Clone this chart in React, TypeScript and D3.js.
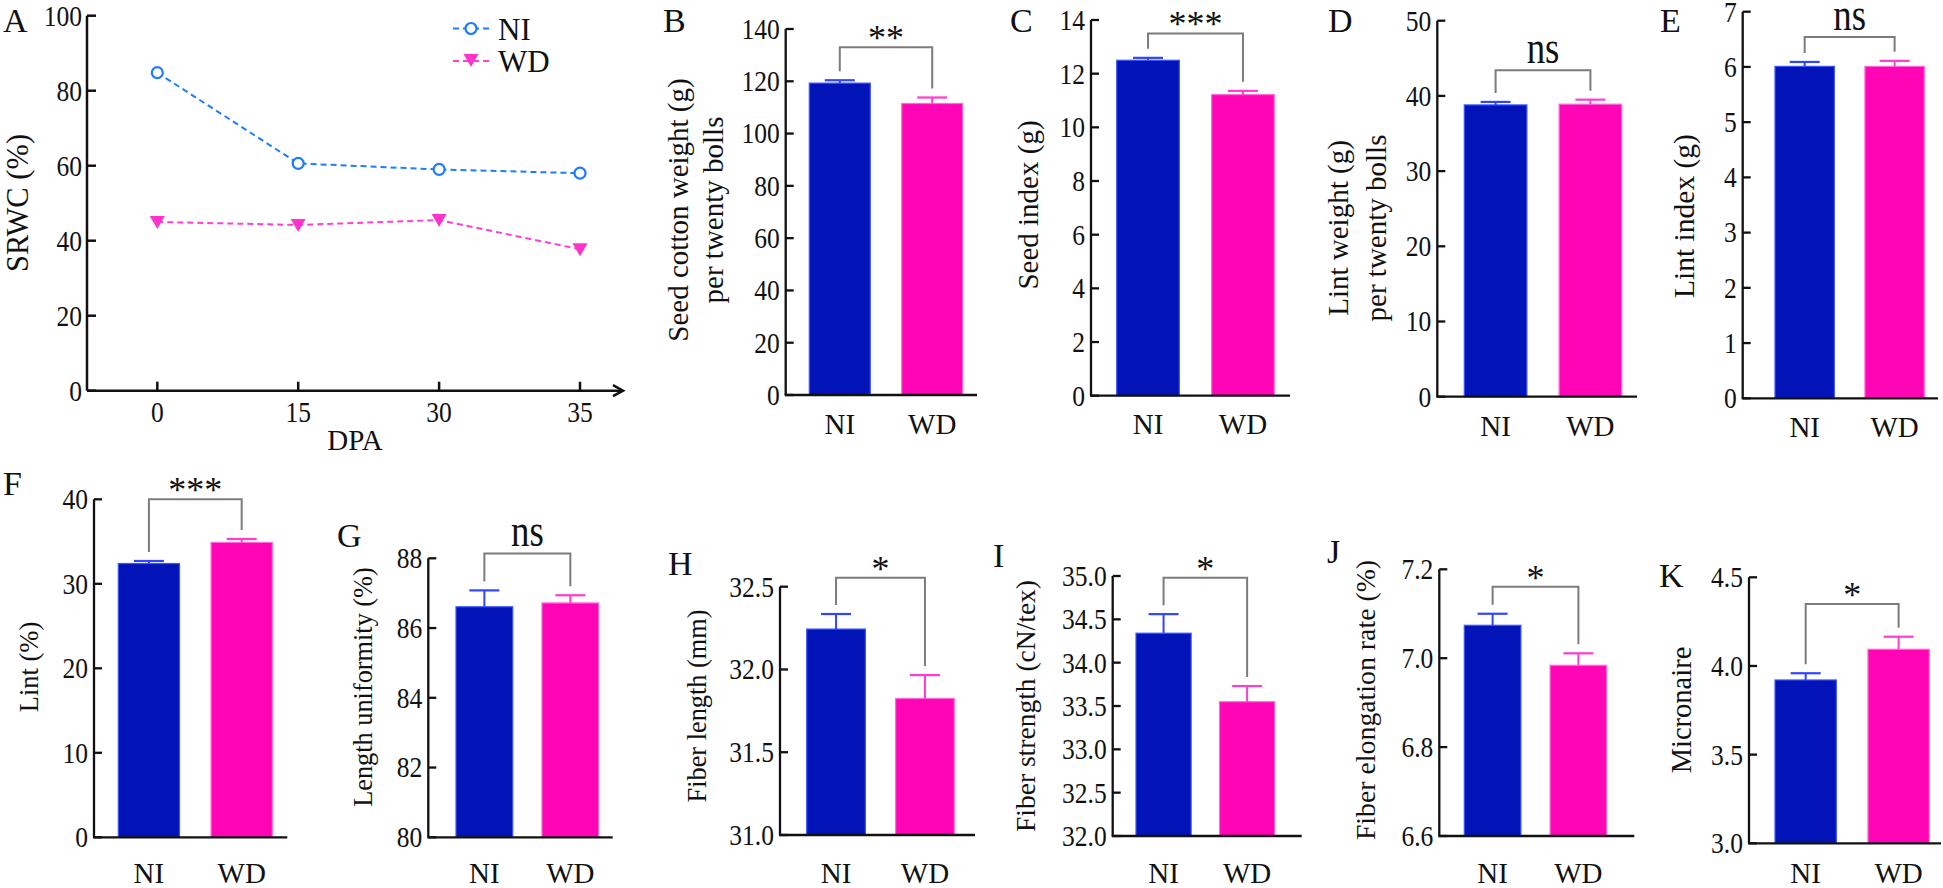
import React from "react";
import * as d3 from "d3";

// ---------- Panel A data ----------
const dpaCats = ["0", "15", "30", "35"];
const srwcNI = [84.8, 60.6, 59.0, 58.0];
const srwcWD = [45.0, 44.2, 45.5, 37.7];
const srwcTicks = [0, 20, 40, 60, 80, 100];

// ---------- Bar panels data (B..K) ----------
const groups = ["NI", "WD"];
const panelLetters = ["B", "C", "D", "E", "F", "G", "H", "I", "J", "K"];
const titleLine1 = [
  "Seed cotton weight (g)", "Seed index (g)", "Lint weight (g)", "Lint index (g)", "Lint (%)",
  "Length uniformity (%)", "Fiber length (mm)", "Fiber strength (cN/tex)", "Fiber elongation rate (%)", "Micronaire",
];
const titleLine2 = ["per twenty bolls", "", "per twenty bolls", "", "", "", "", "", "", ""];
const meanNI = [119.3, 12.5, 38.8, 6.01, 32.4, 86.61, 32.244, 34.34, 7.074, 3.921];
const meanWD = [111.5, 11.22, 38.9, 6.01, 34.9, 86.72, 31.825, 33.55, 6.984, 4.094];
const seNI = [1.1, 0.09, 0.4, 0.08, 0.3, 0.47, 0.091, 0.22, 0.026, 0.038];
const seWD = [2.3, 0.14, 0.6, 0.1, 0.4, 0.22, 0.141, 0.18, 0.027, 0.071];
const yMinVals = [0, 0, 0, 0, 0, 80, 31, 32, 6.6, 3.0];
const yMaxVals = [140, 14, 50, 7, 40, 88, 32.5, 35, 7.2, 4.5];
const yStepVals = [20, 2, 10, 1, 10, 2, 0.5, 0.5, 0.2, 0.5];
const tickDecimals = [0, 0, 0, 0, 0, 0, 1, 1, 1, 1];
const sigLabels = ["**", "***", "ns", "ns", "***", "ns", "*", "*", "*", "*"];
const bracketLevel = [133, 13.5, 43.4, 6.54, 40.0, 88.14, 32.554, 34.98, 7.161, 4.35];

// ---------- Layout (positions only) ----------
const layout = [
  { x0: 785.7, x1: 977, yb: 395, yt: 29, b0: 809.3, b1: 962.7, lx: 663, ly: 32, tx: [679, 714], ty: 210, cy: 434, ts: 29 },
  { x0: 1091, x1: 1290, yb: 395.7, yt: 20, b0: 1116.7, b1: 1274.3, lx: 1010, ly: 32, tx: [1029], ty: 205, cy: 434, ts: 29 },
  { x0: 1437.3, x1: 1637, yb: 396.7, yt: 20.7, b0: 1464.3, b1: 1621.7, lx: 1328, ly: 32, tx: [1339, 1377], ty: 228, cy: 436, ts: 29 },
  { x0: 1742.7, x1: 1938, yb: 398.3, yt: 11.7, b0: 1775, b1: 1924.3, lx: 1660, ly: 32, tx: [1685], ty: 216, cy: 437, ts: 29.5 },
  { x0: 94, x1: 287.3, yb: 837.3, yt: 499.3, b0: 118.3, b1: 272.3, lx: 3, ly: 495, tx: [30], ty: 667, cy: 883, ts: 26.5 },
  { x0: 428.3, x1: 612.7, yb: 837.3, yt: 558.3, b0: 456, b1: 598.7, lx: 337, ly: 547, tx: [364], ty: 687, cy: 883, ts: 26.3 },
  { x0: 780, x1: 975, yb: 835, yt: 586.7, b0: 806.7, b1: 954.3, lx: 668, ly: 575, tx: [698], ty: 706, cy: 883, ts: 26.3 },
  { x0: 1112.7, x1: 1301.7, yb: 836, yt: 576, b0: 1136, b1: 1274.7, lx: 993, ly: 567, tx: [1026], ty: 706, cy: 883, ts: 27.5 },
  { x0: 1439.3, x1: 1634.3, yb: 836, yt: 569.3, b0: 1464.3, b1: 1606.7, lx: 1327, ly: 563, tx: [1366], ty: 700, cy: 883, ts: 27.8 },
  { x0: 1749, x1: 1941, yb: 843.3, yt: 577.3, b0: 1775, b1: 1929.3, lx: 1659, ly: 587, tx: [1682], ty: 710, cy: 883, ts: 28.5 },
];
const layoutA = { x0: 87, x1: 623, yb: 390.7, yt: 15.7, p0: 157.3, p1: 580 };

const FONT = "'Liberation Serif', 'Times New Roman', serif";
const barFill = ["#0213b8", "#ff05b6"];
const barEdge = ["#3a55ff", "#ff6ad8"];
const errColor = ["#2f45ff", "#ff3ccc"];
const axisColor = "#111";
const bracketColor = "#7c7c7c";
const niLine = "#1f7bff";
const wdLine = "#ff3fd0";

function TickLabel({ x, y, text, anchor }: { x: number; y: number; text: string; anchor: string }) {
  return (
    <text
      transform={`translate(${x},${y}) scale(0.88,1)`}
      textAnchor={anchor as any}
      dy="0.34em"
      fontSize={29}
      fontFamily={FONT}
      fill="#111"
    >
      {text}
    </text>
  );
}

function PanelA() {
  const L = layoutA;
  const x = d3.scalePoint<string>().domain(dpaCats).range([L.p0, L.p1]);
  const y = d3.scaleLinear().domain([0, 100]).range([L.yb, L.yt]);
  const line = d3
    .line<number>()
    .x((_, i) => x(dpaCats[i]) as number)
    .y((d) => y(d));
  const tri = "M-7.5,-6 L7.5,-6 L0,7 Z";
  return (
    <g>
      <text x={3} y={32} fontSize={34} fontFamily={FONT} fill="#111">A</text>
      {/* axes */}
      <line x1={L.x0} x2={L.x0} y1={y(100)} y2={L.yb} stroke={axisColor} strokeWidth={2.5} />
      <line x1={L.x0} x2={L.x1} y1={L.yb} y2={L.yb} stroke={axisColor} strokeWidth={2.5} />
      <path d={`M${L.x1 - 10},${L.yb - 5.5} L${L.x1},${L.yb} L${L.x1 - 10},${L.yb + 5.5}`} fill="none" stroke={axisColor} strokeWidth={2.5} />
      {srwcTicks.map((t) => (
        <g key={t}>
          <line x1={L.x0} x2={L.x0 + 9} y1={y(t)} y2={y(t)} stroke={axisColor} strokeWidth={2.5} />
          <TickLabel x={L.x0 - 5} y={y(t)} text={String(t)} anchor="end" />
        </g>
      ))}
      {dpaCats.map((c) => (
        <g key={c}>
          <line x1={x(c)} x2={x(c)} y1={L.yb} y2={L.yb - 9} stroke={axisColor} strokeWidth={2.5} />
          <TickLabel x={x(c) as number} y={L.yb + 21} text={c} anchor="middle" />
        </g>
      ))}
      <text x={(L.x0 + L.x1) / 2} y={450} textAnchor="middle" fontSize={29} fontFamily={FONT} fill="#111">DPA</text>
      <text transform={`translate(18.5,203) rotate(-90)`} textAnchor="middle" dy="0.32em" fontSize={30.5} fontFamily={FONT} fill="#111">SRWC (%)</text>
      {/* lines */}
      <path d={line(srwcNI) as string} fill="none" stroke={niLine} strokeWidth={2} strokeDasharray="6,4" />
      <path d={line(srwcWD) as string} fill="none" stroke={wdLine} strokeWidth={2} strokeDasharray="6,4" />
      {srwcNI.map((v, i) => (
        <circle key={i} cx={x(dpaCats[i])} cy={y(v)} r={5.5} fill="#fff" stroke={niLine} strokeWidth={2.2} />
      ))}
      {srwcWD.map((v, i) => (
        <path key={i} d={tri} transform={`translate(${x(dpaCats[i])},${y(v)})`} fill="#ff33cc" />
      ))}
      {/* legend */}
      <line x1={453} x2={493} y1={28.5} y2={28.5} stroke={niLine} strokeWidth={2} strokeDasharray="6,4" />
      <circle cx={471} cy={28.5} r={5.5} fill="#fff" stroke={niLine} strokeWidth={2.2} />
      <text x={498} y={39.5} fontSize={31} fontFamily={FONT} fill="#111">NI</text>
      <line x1={453} x2={493} y1={61} y2={61} stroke={wdLine} strokeWidth={2} strokeDasharray="6,4" />
      <path d={tri} transform={`translate(471,60)`} fill="#ff33cc" />
      <text x={498} y={72} fontSize={31} fontFamily={FONT} fill="#111">WD</text>
    </g>
  );
}

function BarPanel({ i }: { i: number }) {
  const L = layout[i];
  const y = d3.scaleLinear().domain([yMinVals[i], yMaxVals[i]]).range([L.yb, L.yt]);
  const x = d3.scaleBand<string>().domain(groups).range([L.b0, L.b1]).paddingInner(0.34).paddingOuter(0);
  const ticks = d3.range(yMinVals[i], yMaxVals[i] + yStepVals[i] / 2, yStepVals[i]);
  const means = [meanNI[i], meanWD[i]];
  const ses = [seNI[i], seWD[i]];
  const bw = x.bandwidth();
  const cx = groups.map((g) => (x(g) as number) + bw / 2);
  const by = y(bracketLevel[i]);
  const legBottom = means.map((m, k) => y(m + ses[k]) - 9);
  const sig = sigLabels[i];
  const midX = (cx[0] + cx[1]) / 2;
  return (
    <g>
      <text x={L.lx} y={L.ly} fontSize={34} fontFamily={FONT} fill="#111">{panelLetters[i]}</text>
      {/* bars */}
      {groups.map((g, k) => (
        <rect
          key={g}
          x={x(g)}
          y={y(means[k])}
          width={bw}
          height={y(yMinVals[i]) - y(means[k])}
          fill={barFill[k]}
          stroke={barEdge[k]}
          strokeWidth={1.2}
        />
      ))}
      {/* error bars */}
      {groups.map((g, k) => (
        <g key={g}>
          <line x1={cx[k]} x2={cx[k]} y1={y(means[k])} y2={y(means[k] + ses[k])} stroke={errColor[k]} strokeWidth={2} />
          <line x1={cx[k] - 15} x2={cx[k] + 15} y1={y(means[k] + ses[k])} y2={y(means[k] + ses[k])} stroke={errColor[k]} strokeWidth={2.2} />
        </g>
      ))}
      {/* axes */}
      <line x1={L.x0} x2={L.x0} y1={L.yt} y2={L.yb} stroke={axisColor} strokeWidth={2.3} />
      <line x1={L.x0 - 1} x2={L.x1} y1={L.yb} y2={L.yb} stroke={axisColor} strokeWidth={2.3} />
      {ticks.map((t) => (
        <g key={t}>
          <line x1={L.x0} x2={L.x0 + 8} y1={y(t)} y2={y(t)} stroke={axisColor} strokeWidth={2.3} />
          <TickLabel x={L.x0 - 6} y={y(t)} text={t.toFixed(tickDecimals[i])} anchor="end" />
        </g>
      ))}
      {groups.map((g, k) => (
        <text key={g} x={cx[k]} y={L.cy} textAnchor="middle" fontSize={29} fontFamily={FONT} fill="#111">{g}</text>
      ))}
      {/* y title */}
      {L.tx.map((tx, k) => (
        <text
          key={k}
          transform={`translate(${tx},${L.ty}) rotate(-90)`}
          textAnchor="middle"
          dy="0.32em"
          fontSize={L.ts}
          fontFamily={FONT}
          fill="#111"
        >
          {k === 0 ? titleLine1[i] : titleLine2[i]}
        </text>
      ))}
      {/* significance bracket */}
      <path
        d={`M${cx[0]},${legBottom[0]} L${cx[0]},${by} L${cx[1]},${by} L${cx[1]},${legBottom[1]}`}
        fill="none"
        stroke={bracketColor}
        strokeWidth={2}
      />
      {sig === "ns" ? (
        <text transform={`translate(${midX},${by - 7}) scale(0.8,1)`} textAnchor="middle" fontSize={46} fontFamily={FONT} fill="#111">ns</text>
      ) : (
        <text x={midX} y={by + 3} textAnchor="middle" fontSize={36} fontFamily={FONT} fill="#111">{sig}</text>
      )}
    </g>
  );
}

export default function App() {
  return (
    <svg
      width={1943}
      height={888}
      viewBox="0 0 1943 888"
      style={{ position: "absolute", left: 0, top: 0, display: "block" }}
    >
      <rect x={0} y={0} width={1943} height={888} fill="#fff" />
      <PanelA />
      {panelLetters.map((_, i) => (
        <BarPanel key={i} i={i} />
      ))}
    </svg>
  );
}
